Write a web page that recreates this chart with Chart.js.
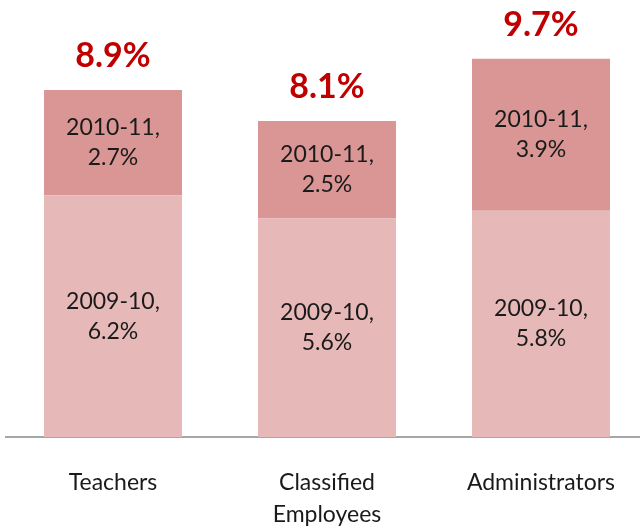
<!DOCTYPE html>
<html>
<head>
<meta charset="utf-8">
<script src="https://cdn.jsdelivr.net/npm/chart.js@4.4.1/dist/chart.umd.min.js"></script>
<style>
  html, body { margin: 0; padding: 0; background: #fff; overflow: hidden; }
  #wrap { width: 650px; height: 529px; }
</style>
</head>
<body>
<div id="wrap"><canvas id="chart"></canvas></div>
<script>
// chart values
const categories = [["Teachers"], ["Classified", "Employees"], ["Administrators"]]
const years = ["2009-10", "2010-11"]
const year0910 = [6.2, 5.6, 5.8]
const year1011 = [2.7, 2.5, 3.9]

const fontFamily = "Lato, 'Open Sans', sans-serif"

// draws the "year, value%" text inside each segment and the red total on top
let labelPlugin = {
  id: 'barLabels',
  afterDatasetsDraw(chart) {
    const ctx = chart.ctx
    ctx.save()
    ctx.textAlign = 'center'
    ctx.textBaseline = 'middle'
    chart.data.datasets.forEach((ds, di) => {
      const meta = chart.getDatasetMeta(di)
      meta.data.forEach((bar, i) => {
        const mid = (bar.y + bar.base) / 2
        ctx.fillStyle = '#1a1a1a'
        ctx.font = '23px ' + fontFamily
        ctx.fillText(ds.label + ',', bar.x, mid - 15)
        ctx.fillText(ds.data[i].toFixed(1) + '%', bar.x, mid + 15)
      })
    })
    const top = chart.getDatasetMeta(chart.data.datasets.length - 1)
    top.data.forEach((bar, i) => {
      const total = year0910[i] + year1011[i]
      ctx.fillStyle = '#c00000'
      ctx.font = 'bold 34px ' + fontFamily
      ctx.fillText(total.toFixed(1) + '%', bar.x, bar.y - 34)
    })
    ctx.restore()
  }
}

new Chart(document.getElementById('chart'), {
  type: 'bar',
  data: {
    labels: categories,
    datasets: [
      { label: years[0], data: year0910, backgroundColor: '#e6b9b8' },
      { label: years[1], data: year1011, backgroundColor: '#d99694' }
    ]
  },
  options: {
    responsive: true,
    maintainAspectRatio: false,
    animation: false,
    layout: { padding: { left: 6, right: 2, top: 8, bottom: 0 } },
    datasets: { bar: { barPercentage: 0.645, categoryPercentage: 1 } },
    plugins: { legend: { display: false }, tooltip: { enabled: false } },
    scales: {
      x: {
        stacked: true,
        grid: { display: false },
        border: { display: true, color: '#a6a6a6', width: 2 },
        ticks: {
          color: '#1a1a1a',
          padding: 21,
          font: { family: fontFamily, size: 23, lineHeight: 1.4 },
          maxRotation: 0
        },
        afterFit(axis) { axis.height = 92 }
      },
      y: {
        stacked: true,
        display: false,
        min: 0,
        max: 11
      }
    }
  },
  plugins: [labelPlugin]
})
</script>
</body>
</html>
